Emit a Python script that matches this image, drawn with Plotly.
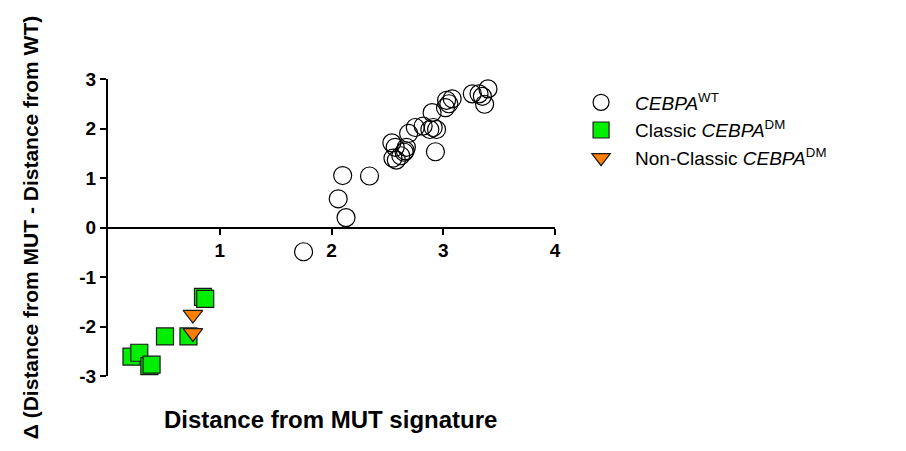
import plotly.graph_objects as go

# CEBPA wild-type samples
wt_x = [1.75, 2.06, 2.13, 2.10, 2.34, 2.54, 2.57, 2.55, 2.58, 2.62, 2.65, 2.67, 2.66,
        2.69, 2.75, 2.82, 2.88, 2.91, 2.94, 2.90, 2.93, 3.02, 3.03, 3.08, 3.05,
        3.26, 3.32, 3.35, 3.40, 3.37]
wt_y = [-0.49, 0.58, 0.20, 1.05, 1.04, 1.71, 1.62, 1.40, 1.36, 1.45, 1.52, 1.62, 1.55,
        1.90, 2.02, 2.05, 1.98, 2.02, 1.98, 2.32, 1.53, 2.42, 2.57, 2.60, 2.50,
        2.70, 2.70, 2.65, 2.80, 2.49]

# Classic double-mutant samples
dm_x = [0.21, 0.28, 0.37, 0.39, 0.51, 0.72, 0.85, 0.87]
dm_y = [-2.61, -2.53, -2.80, -2.77, -2.20, -2.20, -1.40, -1.44]

# Non-classic double-mutant samples
nc_x = [0.76, 0.76]
nc_y = [-1.76, -2.13]

x_ticks = [1, 2, 3, 4]
y_ticks = [-3, -2, -1, 0, 1, 2, 3]

FONT = "Liberation Sans, Arial, sans-serif"

fig = go.Figure()
fig.add_trace(go.Scatter(
    x=wt_x, y=wt_y, mode="markers", name="<i>CEBPA</i><sup>WT</sup>",
    marker=dict(symbol="circle-open", size=18, color="black", line=dict(width=1.2)),
))
fig.add_trace(go.Scatter(
    x=dm_x, y=dm_y, mode="markers", name="Classic <i>CEBPA</i><sup>DM</sup>",
    marker=dict(symbol="square", size=17, color="#00ee00", line=dict(color="#1a1a1a", width=1.2)),
))
fig.add_trace(go.Scatter(
    x=nc_x, y=nc_y, mode="markers", name="Non-Classic <i>CEBPA</i><sup>DM</sup>",
    marker=dict(symbol="triangle-down", size=17, color="#ff7f00", line=dict(color="#1a1a1a", width=1.2)),
))

fig.update_layout(
    width=906, height=451,
    margin=dict(l=108, r=351, t=79, b=75),
    paper_bgcolor="white", plot_bgcolor="white",
    font=dict(family=FONT, color="black"),
    showlegend=True,
    legend=dict(
        x=1.027, y=0.985, xanchor="left", yanchor="top",
        font=dict(size=19, family=FONT, color="black"),
        bgcolor="rgba(0,0,0,0)", tracegroupgap=0, itemwidth=58,
    ),
    xaxis=dict(
        range=[0, 4], tickvals=x_ticks, ticktext=[f"<b>{v}</b>" for v in x_ticks],
        showgrid=False, zeroline=False, showline=True, linecolor="black", linewidth=2,
        ticks="outside", ticklen=6, tickwidth=2, tickcolor="black",
        tickfont=dict(size=19, family=FONT),
        anchor="free", position=0.5,
    ),
    yaxis=dict(
        range=[-3, 3], tickvals=y_ticks, ticktext=[f"<b>{v}</b>" for v in y_ticks],
        showgrid=False, zeroline=False, showline=True, linecolor="black", linewidth=2,
        ticks="outside", ticklen=6, tickwidth=2, tickcolor="black",
        tickfont=dict(size=19, family=FONT),
        title=dict(text="<b>Δ (Distance from MUT - Distance from WT)</b>",
                   font=dict(size=21, family=FONT), standoff=35),
    ),
)

# x-axis title sits well below the plotting region
fig.add_annotation(
    text="<b>Distance from MUT signature</b>", xref="paper", yref="paper",
    x=0.497, y=-0.145, xanchor="center", yanchor="middle", showarrow=False,
    font=dict(size=24, family=FONT),
)

fig.write_html("out.html")
